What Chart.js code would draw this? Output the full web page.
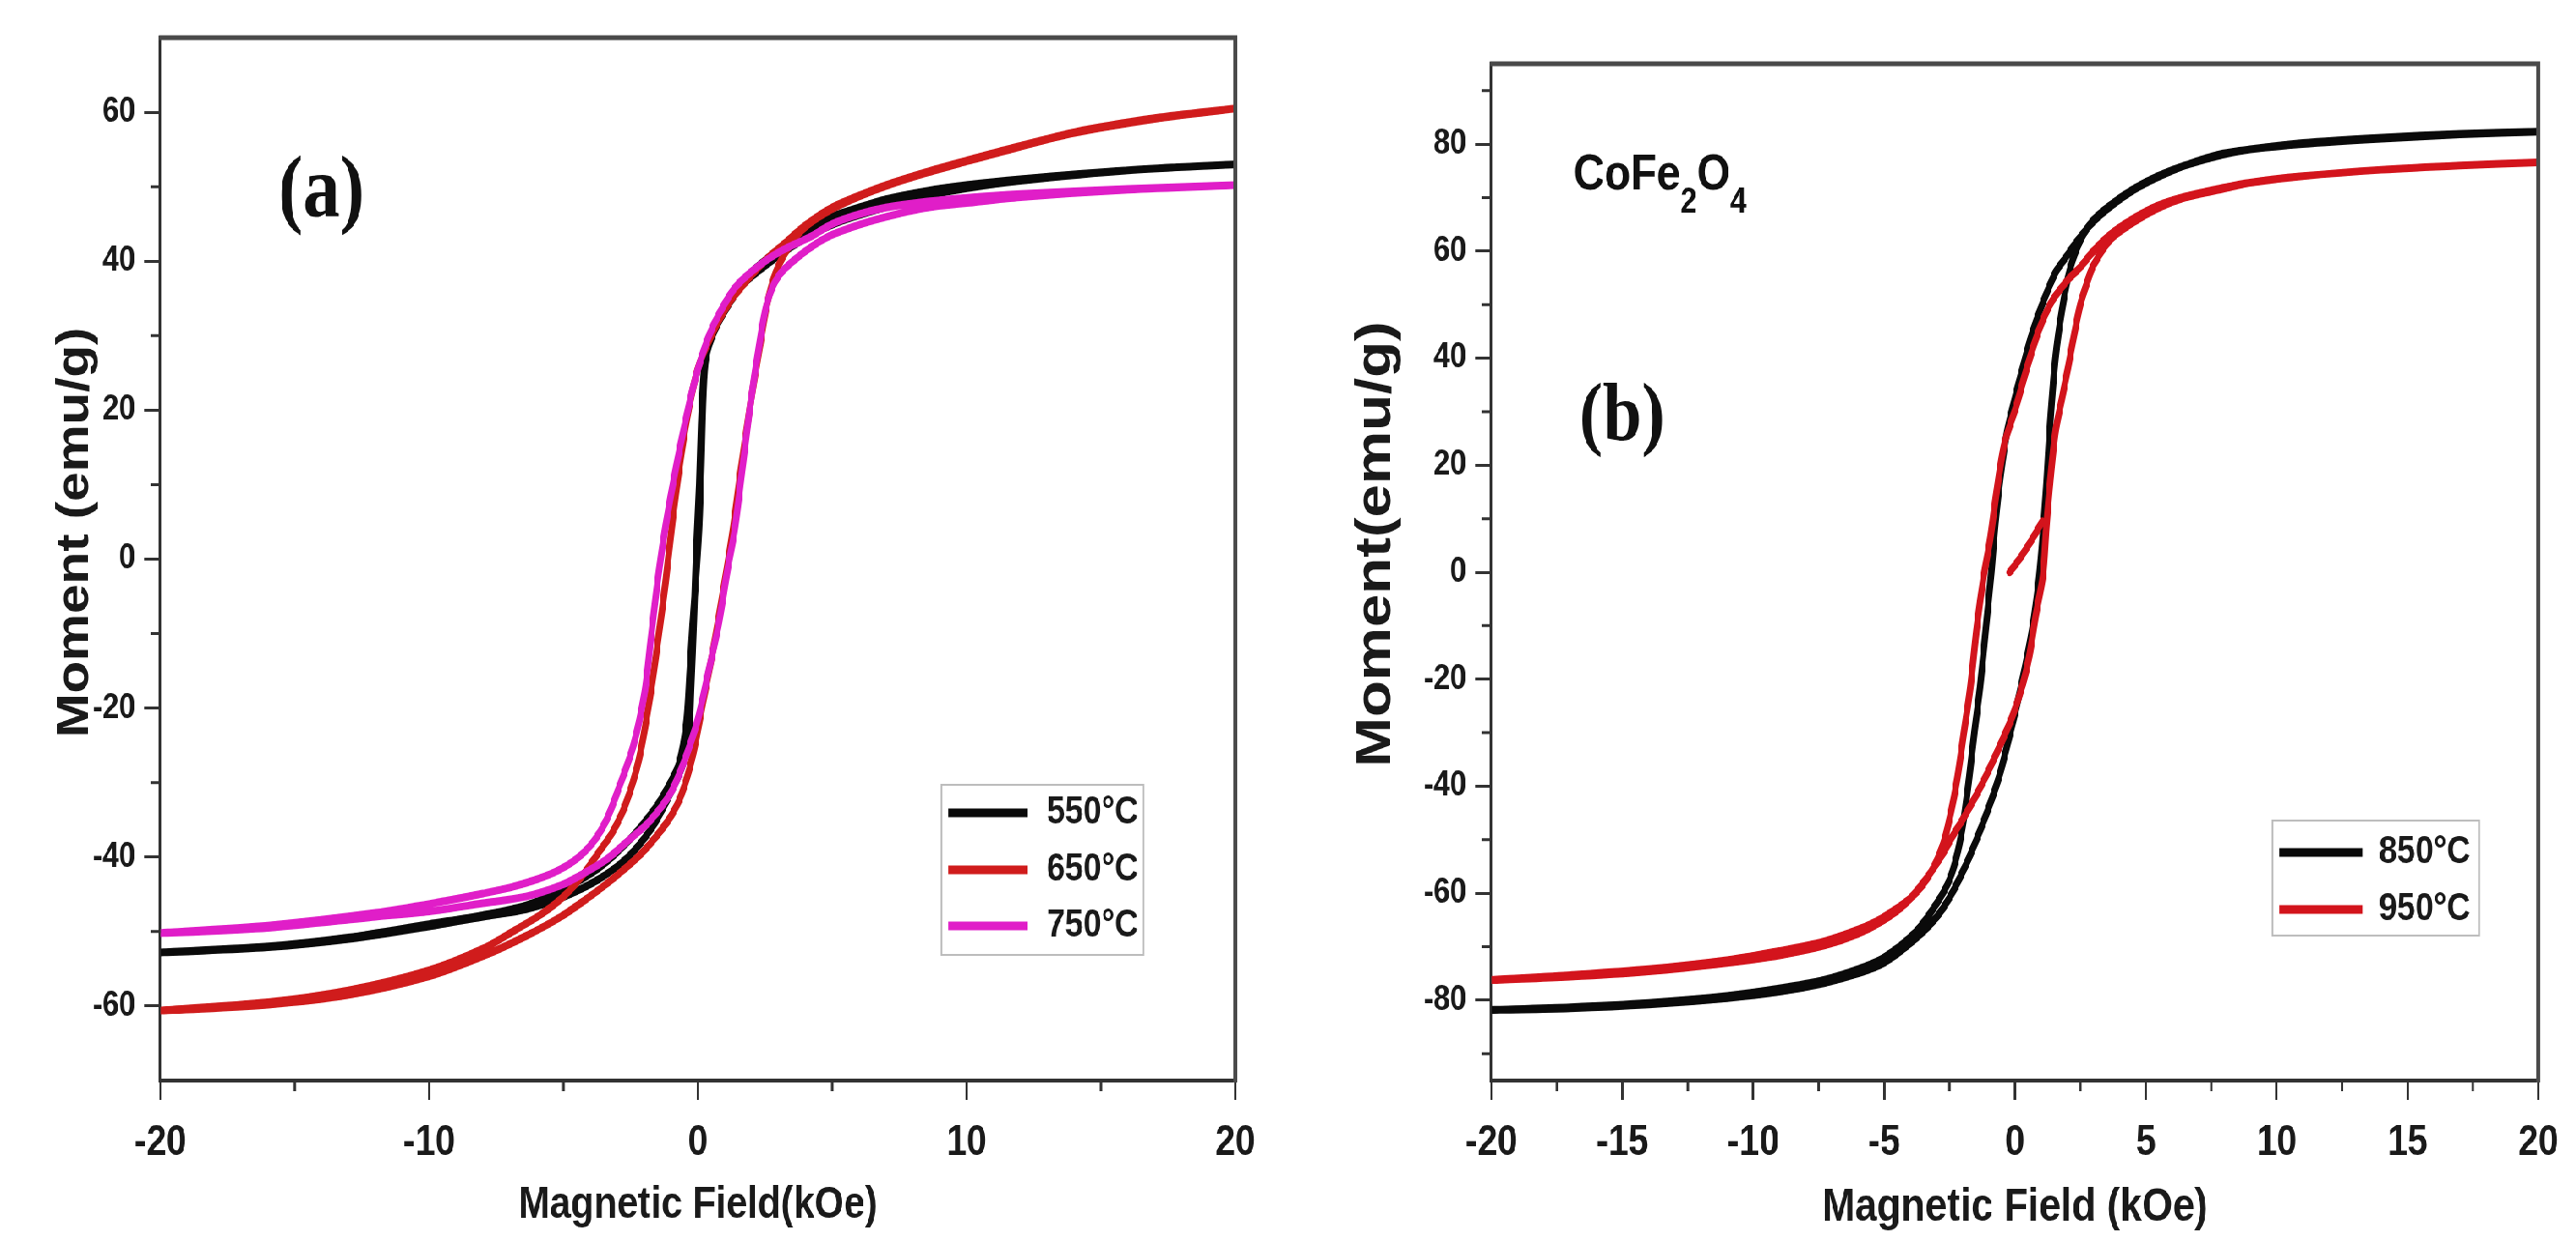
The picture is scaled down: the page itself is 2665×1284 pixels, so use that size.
<!DOCTYPE html>
<html><head><meta charset="utf-8">
<script src="https://cdn.jsdelivr.net/npm/chart.js@4/dist/chart.umd.min.js"></script>
<style>
html,body{margin:0;padding:0;background:#fff;overflow:hidden;}
body{width:2665px;height:1284px;position:relative;}
#wrap{position:absolute;left:0;top:0;width:3136px;height:1284px;transform:scaleX(0.85);transform-origin:0 0;}
#wrap canvas{position:absolute;top:0;}
</style></head><body>
<div id="wrap">
<canvas id="chartA" width="1565" height="1284" style="left:0px;width:1565px;height:1284px"></canvas>
<canvas id="chartB" width="1571" height="1284" style="left:1565px;width:1571px;height:1284px"></canvas>
</div>
<script>
// ---------------- data ----------------
const fieldTicksA = [-20, -10, 0, 10, 20];
const fieldMinorA = [-15, -5, 5, 15];
const momentTicksA = [-60, -40, -20, 0, 20, 40, 60];
const momentMinorA = [-50, -30, -10, 10, 30, 50];
const fieldTicksB = [-20, -15, -10, -5, 0, 5, 10, 15, 20];
const fieldMinorB = [-17.5, -12.5, -7.5, -2.5, 2.5, 7.5, 12.5, 17.5];
const momentTicksB = [-80, -60, -40, -20, 0, 20, 40, 60, 80];
const momentMinorB = [-90, -70, -50, -30, -10, 10, 30, 50, 70, 90];
const labelsA = ['550°C', '650°C', '750°C'];
const labelsB = ['850°C', '950°C'];

// each loop: descending branch (+20 -> -20) then ascending branch (-20 -> +20)
const h550 = [20,16,12,10,8.5,7,6,5,4.35,3.5, 2.8,2,1.2,0.6,0.3,0.2,0.12,0.04,-0.1,-0.2, -0.3,-0.43,-0.7,-1.1,-1.6,-2.5,-3.7,-5.1,-6.4,-8, -10,-13,-16,-20,
  -16,-13,-10,-8,-6.4,-5.1,-3.7,-2.6,-1.7,-1.1, -0.6,-0.35,-0.25,-0.15,-0.05,0.05,0.12,0.2,0.3,0.6, 1.1,1.8,2.8,3.6,4.35,5.2,6.1,7.5,8.55,10, 12,16,20];
const m550 = [53,52.2,51,50.2,49.4,48.3,47.2,46,44.8,43, 41,38.5,34.5,30.5,27,22,12,4,-4,-9, -15,-22,-27.4,-30.5,-33.5,-37.5,-41.5,-44.5,-46.5,-47.8, -49,-50.8,-52,-52.8,
  -52.1,-51,-49.3,-48,-47,-45.5,-43,-40,-36,-32, -28,-24,-17,-8,2,10,18,24,27.5,31, 34.2,37.3,40.2,42.2,43.8,45.2,46.3,47.8,48.8,49.8, 50.8,52.2,53];

const h650 = [20,17,14,11,10,8.55,7,6,5,4, 3.2,2.56,1.8,1.13,0.5,0,-0.4,-0.7,-0.95,-1.2, -1.45,-1.75,-2.2,-2.7,-3.2,-3.7,-4.3,-5,-5.8,-6.8, -8,-10,-13,-16,-20,
  -16,-13,-10,-8,-6.4,-5.1,-4.1,-3.3,-2.7,-2.1, -1.5,-1.0,-0.6,-0.2,0.2,0.6,1.0,1.3,1.6,1.97, 2.3,2.56,2.9,3.4,4,5,6,7,8.55,10, 11,14,17,20];
const m650 = [60.5,59.2,57.3,54.5,53.5,52,50.2,48.8,47.2,44.8, 42.3,40.3,37.3,34.2,30,25.6,19,12,5,-3, -10,-17.8,-27,-33,-36.8,-39.4,-42.5,-45.3,-47.6,-49.8, -52.3,-55.2,-57.9,-59.5,-60.6,
  -59.8,-58.5,-56,-53.3,-50.6,-48,-45.5,-43.3,-41.5,-39.5, -37,-34.5,-31.5,-26.5,-19,-11.5,-3,3.9,12,21.2, 28.5,34,38.5,42,44.6,47,48.7,50.1,51.9,53.4, 54.4,57.2,59.1,60.5];

const h750 = [20,16,12,10,8.55,7,6,5,4.2,3.16, 2.2,1.37,0.8,0.4,0,-0.3,-0.8,-1.2,-1.5,-1.76, -1.98,-2.4,-2.95,-3.4,-3.9,-4.5,-5.2,-6,-7,-8, -9.4,-12,-16,-20,
  -16,-12,-10,-8,-6.4,-5.1,-4.3,-3.4,-2.6,-1.8, -1.03,-0.6,-0.3,0,0.4,0.76,1.1,1.37,1.65,1.97, 2.25,2.56,3,3.77,4.8,6.1,7.5,8.55,10,12, 16,20];
const m750 = [50.2,49.7,49,48.5,48,47.2,46.3,45,43.3,41.5, 39.2,36.4,33,29.9,25.5,21.2,12.6,4.5,-3,-11, -17.8,-25,-30.8,-35,-38,-40.2,-41.8,-43,-44.1,-44.9, -45.9,-47.5,-49.2,-50.2,
  -49.5,-48,-47.3,-46.2,-45.3,-43.8,-42.3,-40.3,-37.8,-35.2, -31.5,-28,-25,-21.5,-15,-9,-1.5,3.9,12,21.2, 28,34.2,38,40.7,43.2,45,46.4,47.2,47.8,48.6, 49.6,50.2];

const h850 = [20,17,14,11,9,7.93,6.5,5.46,4.5,3.62, 3,2.4,1.9,1.55,1.04,0.65,0.3,0,-0.3,-0.55, -0.75,-0.9,-1.1,-1.33,-1.55,-1.75,-1.95,-2.18,-2.5,-3, -3.8,-5,-6,-7.3,-9,-11,-14,-17,-20,
  -17,-14,-11,-9,-7.3,-6,-5,-3.8,-3,-2.46, -1.9,-1.47,-1.0,-0.62,-0.25,0.08,0.4,0.65,0.8,0.93, 1.05,1.2,1.35,1.55,1.8,2.1,2.5,3,3.62,4.5, 5.46,6.5,7.93,9,11,14,17,20];
const m850 = [82.3,81.8,81,80,79,78.2,76,73.8,71.3,68.2, 65.5,62,58.5,56,50,44.5,38.2,32.5,26.2,18, 9,0,-10,-21.4,-30,-38.5,-46,-52.2,-57.5,-62, -67.3,-72,-74.2,-76.2,-77.8,-79.2,-80.5,-81.3,-81.8,
  -81.5,-80.8,-79.6,-78.4,-76.8,-75,-73,-68.5,-64.5,-60.5, -55,-50,-44,-38.5,-31.5,-24.8,-17.5,-11,-6,-0.7, 6,16,28,40,49,56.5,62,65.8,68.5,71.5, 74,76,78,79,80.2,81.2,81.9,82.3];

const h950 = [20,17,14,11,9,7.93,6.5,5.46,4.5,3.62, 3,2.5,2,1.4,0.9,0.45,0.05,-0.4,-0.7,-0.95, -1.19,-1.45,-1.7,-1.95,-2.2,-2.45,-2.74,-3.2,-3.87,-5.07, -6,-7.3,-9,-11,-14,-17,-20,
  -17,-14,-11,-9,-7.3,-6,-5.07,-4.2,-3.45,-2.8, -2.32,-1.91,-1.3,-0.68,-0.1,0.3,0.55,0.8,1.07,1.2, 1.35,1.55,1.8,2.03,2.25,2.5,2.75,3,3.62,4.5, 5.46,6.5,7.93,9,11,14,17,20];
const m950 = [76.6,76,75.2,74,72.8,71.8,70.2,68.5,66,63, 60,57,54.5,50.5,45,38,31,24,15,6, -0.7,-10,-21.4,-30,-38.5,-45,-50.8,-56,-60.4,-64.6, -66.8,-69,-70.8,-72.5,-74.2,-75.3,-76.2,
  -75.6,-74.6,-73,-71.6,-69.8,-67.6,-65.2,-62,-57.7,-53, -48.8,-45.5,-40,-33.6,-27,-21,-15.7,-8,-0.7,8.3, 17,26.2,32.5,38.2,44,50,54,57.3,62,65.3, 68,70,71.6,72.8,74,75.2,76,76.6];

// initial magnetisation stub of the 950 °C sample
const h950v = [-0.2, 0.25, 0.7, 1.05];
const m950v = [0, 3, 6.5, 9.5];

// ---------------- drawing ----------------
const S = 0.85;            // horizontal squeeze of the whole figure
const H = 1284;
const FONT = "'Liberation Sans', Arial, Helvetica, sans-serif";
const SERIF = "'Liberation Serif', 'Times New Roman', serif";
const INK = '#1a1a1a';

const decorPlugin = {
  id: 'decor',
  afterDraw(chart, args, o) {
    const ctx = chart.ctx, a = chart.chartArea;
    const xs = chart.scales.x, ys = chart.scales.y;
    ctx.save();
    ctx.strokeStyle = '#333'; ctx.lineWidth = 3; ctx.lineCap = 'butt';
    ctx.beginPath();
    o.xMinor.forEach(v => { const p = xs.getPixelForValue(v); ctx.moveTo(p, a.bottom); ctx.lineTo(p, a.bottom + o.minorX); });
    o.yMinor.forEach(v => { const p = ys.getPixelForValue(v); ctx.moveTo(a.left, p); ctx.lineTo(a.left - o.minorY, p); });
    ctx.stroke();
    ctx.strokeStyle = '#4a4a4a'; ctx.lineWidth = 5;
    ctx.beginPath(); ctx.moveTo(a.left - 2, a.top); ctx.lineTo(a.right, a.top); ctx.lineTo(a.right, a.bottom + 2); ctx.stroke();
    // legend box
    const L = o.legend;
    ctx.strokeStyle = '#bdbdbd'; ctx.lineWidth = 2;
    ctx.strokeRect(L.x0, L.y0, L.x1 - L.x0, L.y1 - L.y0);
    let row = 0;
    chart.data.datasets.forEach(d => {
      if (!d.inLegend) return;
      const y = L.rows[row++];
      ctx.strokeStyle = d.borderColor; ctx.lineWidth = 9;
      ctx.beginPath(); ctx.moveTo(L.lx0, y); ctx.lineTo(L.lx1, y); ctx.stroke();
      ctx.fillStyle = INK; ctx.font = 'bold ' + L.size + 'px ' + FONT;
      ctx.textAlign = 'left'; ctx.textBaseline = 'middle';
      ctx.fillText(d.label, L.tx, y);
    });
    // y axis title
    const T = o.yTitle;
    ctx.save(); ctx.translate(T.x, T.y); ctx.rotate(-Math.PI / 2);
    ctx.font = 'bold ' + T.size + 'px ' + FONT; ctx.fillStyle = INK;
    ctx.textAlign = 'center'; ctx.textBaseline = 'middle';
    ctx.fillText(T.text, 0, 0); ctx.restore();
    // notes
    o.notes.forEach(n => {
      let x = n.x;
      n.parts.forEach(p => {
        ctx.font = 'bold ' + p.size + 'px ' + (p.family || FONT); ctx.fillStyle = '#111';
        ctx.textAlign = 'left'; ctx.textBaseline = 'alphabetic';
        ctx.fillText(p.t, x, n.y + (p.dy || 0));
        x += ctx.measureText(p.t).width;
      });
    });
    ctx.restore();
  }
};

function makeChart(id, P) {
  const X = v => v / S - P.offI;          // figure x (px) -> canvas x
  const W = P.width;
  const datasets = P.series.map(s => ({
    label: s.label,
    data: s.h.map((x, k) => ({ x: x, y: s.m[k] })),
    showLine: true, fill: false, tension: 0.3,
    borderColor: s.color, backgroundColor: s.color, borderWidth: 8,
    pointRadius: 0, pointHoverRadius: 0, order: s.order,
    inLegend: s.inLegend !== false, borderJoinStyle: 'round', borderCapStyle: 'round'
  }));
  const tickFont = size => ({ family: FONT, size: size, weight: 'bold' });
  return new Chart(document.getElementById(id), {
    type: 'scatter',
    data: { datasets: datasets },
    options: {
      responsive: false, animation: false, devicePixelRatio: 1,
      layout: { padding: { left: 0, top: P.area.top, right: W - X(P.area.right), bottom: 0 } },
      plugins: {
        legend: { display: false }, tooltip: { enabled: false },
        decor: {
          xMinor: P.xMinor, yMinor: P.yMinor, minorX: 11, minorY: 10 / S,
          legend: {
            x0: X(P.legend.x0), x1: X(P.legend.x1), y0: P.legend.y0, y1: P.legend.y1,
            rows: P.legend.rows, lx0: X(P.legend.lx0), lx1: X(P.legend.lx1), tx: X(P.legend.tx), size: 40
          },
          yTitle: { text: P.yTitle.text, x: X(P.yTitle.x), y: P.yTitle.y, size: P.yTitle.size },
          notes: P.notes.map(n => ({ x: X(n.x), y: n.y, parts: n.parts }))
        }
      },
      scales: {
        x: {
          type: 'linear', min: P.xMin, max: P.xMax,
          afterBuildTicks: sc => { sc.ticks = P.xTicks.map(v => ({ value: v })); },
          afterFit: sc => { sc.height = H - P.area.bottom; },
          ticks: { font: tickFont(44), color: INK, padding: 18, autoSkip: false, maxRotation: 0, minRotation: 0 },
          grid: { display: true, drawOnChartArea: false, drawTicks: true, tickLength: 20, tickWidth: 3, tickColor: '#333' },
          border: { display: true, width: 4, color: '#333' },
          title: { display: true, text: P.xTitle.text, color: INK, font: { family: FONT, size: P.xTitle.size, weight: 'bold' }, padding: { top: 0, bottom: P.xTitle.pad } }
        },
        y: {
          type: 'linear', min: P.yMin, max: P.yMax,
          afterBuildTicks: sc => { sc.ticks = P.yTicks.map(v => ({ value: v })); },
          afterFit: sc => { sc.width = X(P.area.left); },
          ticks: { font: tickFont(36), color: INK, padding: 9 / S },
          grid: { display: true, drawOnChartArea: false, drawTicks: true, tickLength: 17 / S, tickWidth: 3, tickColor: '#333' },
          border: { display: true, width: 4, color: '#333' },
          title: { display: false }
        }
      }
    },
    plugins: [decorPlugin]
  });
}

makeChart('chartA', {
  offI: 0, width: 1565,
  area: { left: 166, right: 1278, top: 39, bottom: 1118 },
  xMin: -20, xMax: 20, yMin: -70, yMax: 70,
  xTicks: fieldTicksA, xMinor: fieldMinorA, yTicks: momentTicksA, yMinor: momentMinorA,
  xTitle: { text: 'Magnetic Field(kOe)', size: 46, pad: 9 },
  yTitle: { text: 'Moment (emu/g)', x: 78, y: 551, size: 55 },
  series: [
    { label: labelsA[0], h: h550, m: m550, color: '#0a0a0a', order: 2 },
    { label: labelsA[1], h: h650, m: m650, color: '#d01c1c', order: 1 },
    { label: labelsA[2], h: h750, m: m750, color: '#e01ec8', order: 0 }
  ],
  legend: { x0: 974, x1: 1183, y0: 812, y1: 988, rows: [841, 900, 958], lx0: 981, lx1: 1063, tx: 1083 },
  notes: [ { x: 288, y: 224, parts: [ { t: '(a)', size: 90, family: SERIF } ] } ]
});

makeChart('chartB', {
  offI: 1565, width: 1571,
  area: { left: 1543, right: 2626, top: 66, bottom: 1118 },
  xMin: -20, xMax: 20, yMin: -95, yMax: 95,
  xTicks: fieldTicksB, xMinor: fieldMinorB, yTicks: momentTicksB, yMinor: momentMinorB,
  xTitle: { text: 'Magnetic Field (kOe)', size: 48, pad: 5 },
  yTitle: { text: 'Moment(emu/g)', x: 1424, y: 563, size: 62 },
  series: [
    { label: labelsB[0], h: h850, m: m850, color: '#0a0a0a', order: 1 },
    { label: labelsB[1], h: h950, m: m950, color: '#d3141c', order: 0 },
    { label: '', h: h950v, m: m950v, color: '#d3141c', order: 0, inLegend: false }
  ],
  legend: { x0: 2351, x1: 2565, y0: 849, y1: 968, rows: [882, 941], lx0: 2358, lx1: 2444, tx: 2461 },
  notes: [
    { x: 1634, y: 455, parts: [ { t: '(b)', size: 85, family: SERIF } ] },
    { x: 1628, y: 196, parts: [ { t: 'CoFe', size: 52 }, { t: '2', size: 36, dy: 24 }, { t: 'O', size: 52 }, { t: '4', size: 36, dy: 24 } ] }
  ]
});
</script>
</body></html>
